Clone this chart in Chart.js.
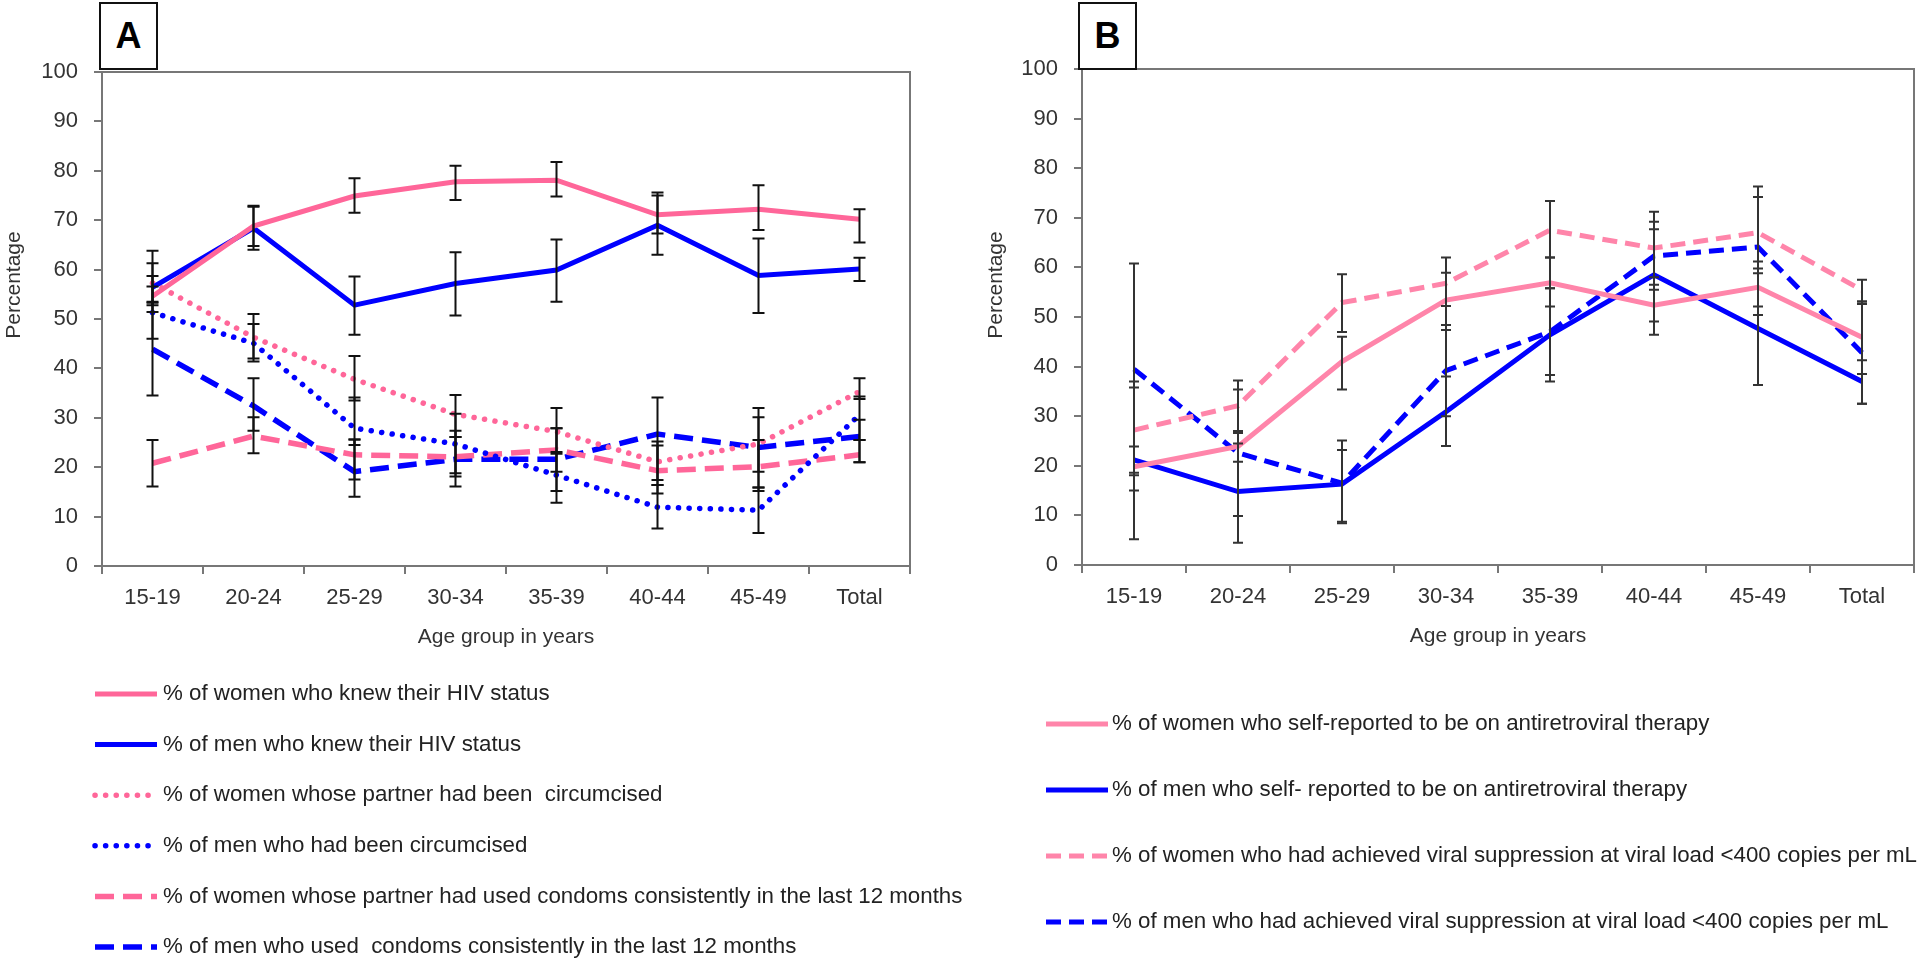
<!DOCTYPE html>
<html>
<head>
<meta charset="utf-8">
<script src="https://cdn.jsdelivr.net/npm/chart.js@4.4.0/dist/chart.umd.min.js"></script>
<style>
body{margin:0;background:#fff;width:1920px;height:966px;overflow:hidden;position:relative;font-family:"Liberation Sans",Arial,sans-serif}
.wrap{position:absolute;top:0;width:960px;height:966px}
.tag{position:absolute;top:2px;width:55px;height:64px;border:2px solid #111;background:#fff;font:bold 36px "Liberation Sans",Arial,sans-serif;text-align:center;line-height:64px;color:#000;z-index:2}
</style>
</head>
<body>

<div class="wrap" style="left:960px"><canvas id="chartB"></canvas></div>
<div class="wrap" style="left:0;width:1010px"><canvas id="chartA"></canvas></div>
<div class="tag" style="left:99px">A</div>
<div class="tag" style="left:1078px">B</div>

<script>
// categories
const ageGroups=["15-19","20-24","25-29","30-34","35-39","40-44","45-49","Total"];
const yMin=0, yMax=100, yStep=10;

// panel A
const womenKnew=[54.6,68.8,74.9,77.8,78.1,71.1,72.2,70.2];
const womenKnewLo=[51.4,64.0,71.5,74.1,74.8,67.3,68.0,65.5];
const womenKnewHi=[58.7,72.7,78.5,81.0,81.8,75.6,77.1,72.2];

const menKnew=[56.4,68.4,52.8,57.2,59.9,69.0,58.8,60.1];
const menKnewLo=[52.8,64.8,46.8,50.7,53.5,63.0,51.2,57.7];
const menKnewHi=[61.3,72.9,58.6,63.5,66.1,75.0,66.3,62.4];

const womenPartnerCirc=[57.3,46.3,37.8,30.7,27.2,21.1,24.7,35.3];
const womenPartnerCircLo=[53.5,41.4,33.5,26.1,22.7,16.4,19.1,33.8];
const womenPartnerCircHi=[63.8,51.0,42.5,34.6,32.0,25.2,30.1,38.0];

const menCirc=[51.3,45.1,27.9,24.7,18.4,11.9,11.3,30.6];
const menCircLo=[46.0,42.0,24.5,18.8,12.8,7.6,6.7,25.5];
const menCircHi=[56.6,49.0,34.1,30.8,23.1,16.4,15.9,34.3];

const womenPartnerCondom=[20.8,26.3,22.5,22.1,23.5,19.3,20.1,22.5];
const womenPartnerCondomLo=[16.1,22.8,17.5,18.1,19.1,14.7,15.2,21.0];
const womenPartnerCondomHi=[25.5,30.1,25.6,27.4,27.9,24.4,25.5,25.5];

const menCondom=[43.9,32.4,19.1,21.6,21.6,26.7,24.0,26.2];
const menCondomLo=[34.5,27.4,14.0,16.1,15.2,17.4,15.9,21.0];
const menCondomHi=[53.3,38.0,25.6,26.1,27.9,34.1,32.0,29.6];

// panel B
const womenArt=[19.8,23.9,41.0,53.4,56.9,52.4,56.0,45.9];
const womenArtLo=[15.0,20.8,35.4,47.4,52.1,46.4,50.4,38.5];
const womenArtHi=[23.9,27.0,46.0,58.9,62.0,58.0,61.2,52.6];

const menArt=[21.2,14.8,16.3,30.9,46.4,58.5,47.7,37.0];
const menArtLo=[5.2,4.5,8.4,24.0,38.3,49.1,36.3,32.5];
const menArtHi=[37.0,24.5,23.2,38.0,55.8,67.7,59.8,41.3];

const womenVs=[27.2,32.1,52.9,56.8,67.5,63.9,67.0,55.4];
const womenVsLo=[18.6,26.6,47.0,52.2,62.0,56.5,58.8,53.1];
const womenVsHi=[35.8,37.2,58.6,62.0,73.4,71.2,76.3,57.5];

const menVs=[39.5,22.6,16.5,39.2,47.0,62.3,64.1,42.8];
const menVsLo=[18.1,9.9,8.7,30.0,37.0,55.5,52.1,32.5];
const menVsHi=[60.8,35.4,25.1,48.4,55.8,69.2,74.2,53.1];

const pinkA="#ff6699", pinkB="#ff85aa", blue="#0000ff";

Chart.defaults.font.family='"Liberation Sans", Arial, sans-serif';
Chart.defaults.color="#333";

const errorBars={
id:"errorBars",
afterDatasetsDraw(chart,args,opts){
const ctx=chart.ctx, xs=chart.scales.x, ys=chart.scales.y;
ctx.save();
ctx.strokeStyle=opts.color;
ctx.lineWidth=opts.width;
ctx.setLineDash([]);
chart.data.datasets.forEach(ds=>{
ds.errLow.forEach((lo,i)=>{
let px=xs.getPixelForValue(i);
let y1=ys.getPixelForValue(lo);
let y2=ys.getPixelForValue(ds.errHigh[i]);
let c=opts.cap/2;
ctx.beginPath();
ctx.moveTo(px,y1);ctx.lineTo(px,y2);
ctx.moveTo(px-c,y1);ctx.lineTo(px+c,y1);
ctx.moveTo(px-c,y2);ctx.lineTo(px+c,y2);
ctx.stroke();
});
});
ctx.restore();
}
};

const frame={
id:"frame",
beforeDatasetsDraw(chart){
const a=chart.chartArea, ctx=chart.ctx;
ctx.save();
ctx.strokeStyle="#777";
ctx.lineWidth=2;
ctx.strokeRect(a.left,a.top,a.right-a.left,a.bottom-a.top);
ctx.restore();
}
};

const sideTitle={
id:"sideTitle",
afterDraw(chart,args,opts){
const ctx=chart.ctx;
ctx.save();
ctx.translate(opts.x,opts.y);
ctx.rotate(-Math.PI/2);
ctx.fillStyle="#333";
ctx.font='21px "Liberation Sans", Arial, sans-serif';
ctx.textAlign="center";
ctx.textBaseline="middle";
ctx.fillText(opts.text,0,0);
ctx.restore();
}
};

const lineLegend={
id:"lineLegend",
afterDraw(chart,args,opts){
const ctx=chart.ctx;
chart.data.datasets.forEach((ds,i)=>{
let y=opts.y0+i*opts.step;
ctx.save();
ctx.strokeStyle=ds.borderColor;
ctx.lineWidth=ds.borderWidth;
ctx.lineCap=ds.borderCapStyle||"butt";
ctx.setLineDash(ds.borderDash||[]);
ctx.beginPath();
ctx.moveTo(opts.x0,y);ctx.lineTo(opts.x1,y);
ctx.stroke();
ctx.setLineDash([]);
ctx.fillStyle="#222";
ctx.font='22.3px "Liberation Sans", Arial, sans-serif';
ctx.textAlign="left";
ctx.textBaseline="middle";
ctx.fillText(ds.label,opts.textX,y);
ctx.restore();
});
}
};

function line(label,data,lo,hi,color,style,width){
let ds={label:label,data:data,errLow:lo,errHigh:hi,borderColor:color,backgroundColor:color,
borderWidth:width,pointRadius:0,tension:0,fill:false,borderCapStyle:"butt"};
if(style==="dot"){ds.borderDash=[0.1,10.5];ds.borderCapStyle="round";}
if(style==="dashA"){ds.borderDash=[19,9];}
if(style==="dashB"){ds.borderDash=[15,8];}
return ds;
}

function makeChart(id,datasets,o){
return new Chart(document.getElementById(id),{
type:"line",
data:{labels:ageGroups,datasets:datasets},
plugins:[frame,errorBars,sideTitle,lineLegend],
options:{
responsive:true,
maintainAspectRatio:false,
animation:false,
layout:{padding:{top:o.top,right:o.right,bottom:o.bottom,left:0}},
scales:{
x:{
offset:true,
grid:{offset:true,drawOnChartArea:false,tickLength:8,color:"#777",lineWidth:2},
border:{display:true,color:"#777",width:2},
ticks:{font:{size:22},color:"#333",padding:11,maxRotation:0},
title:{display:true,text:"Age group in years",font:{size:21},color:"#333",padding:{top:0,bottom:0}},
afterFit:s=>{s.height=84;}
},
y:{
min:yMin,max:yMax,
grid:{drawOnChartArea:false,tickLength:8,color:"#777",lineWidth:2},
border:{display:true,color:"#777",width:2},
ticks:{stepSize:yStep,font:{size:22},color:"#333",padding:16},
afterFit:s=>{s.width=o.axisW;}
}
},
plugins:{
legend:{display:false},
tooltip:{enabled:false},
errorBars:{color:o.barColor,width:2,cap:o.cap},
sideTitle:{text:"Percentage",x:o.titleX,y:285},
lineLegend:o.legend
}
}
});
}

makeChart("chartA",[
line("% of women who knew their HIV status",womenKnew,womenKnewLo,womenKnewHi,pinkA,"solid",5),
line("% of men who knew their HIV status",menKnew,menKnewLo,menKnewHi,blue,"solid",5),
line("% of women whose partner had been  circumcised",womenPartnerCirc,womenPartnerCircLo,womenPartnerCircHi,pinkA,"dot",5.5),
line("% of men who had been circumcised",menCirc,menCircLo,menCircHi,blue,"dot",5.5),
line("% of women whose partner had used condoms consistently in the last 12 months",womenPartnerCondom,womenPartnerCondomLo,womenPartnerCondomHi,pinkA,"dashA",5.5),
line("% of men who used  condoms consistently in the last 12 months",menCondom,menCondomLo,menCondomHi,blue,"dashA",5.5)
],{top:72,right:100,bottom:316,axisW:102,barColor:"#111",cap:12,titleX:14,
legend:{x0:95,x1:157,textX:163,y0:694,step:50.6}});

makeChart("chartB",[
line("% of women who self-reported to be on antiretroviral therapy",womenArt,womenArtLo,womenArtHi,pinkB,"solid",5),
line("% of men who self- reported to be on antiretroviral therapy",menArt,menArtLo,menArtHi,blue,"solid",5),
line("% of women who had achieved viral suppression at viral load <400 copies per mL",womenVs,womenVsLo,womenVsHi,pinkB,"dashB",5),
line("% of men who had achieved viral suppression at viral load <400 copies per mL",menVs,menVsLo,menVsHi,blue,"dashB",5)
],{top:69,right:6,bottom:317,axisW:122,barColor:"#333",cap:10,titleX:36,
legend:{x0:86,x1:148,textX:152,y0:724,step:66}});
</script>
</body>
</html>
